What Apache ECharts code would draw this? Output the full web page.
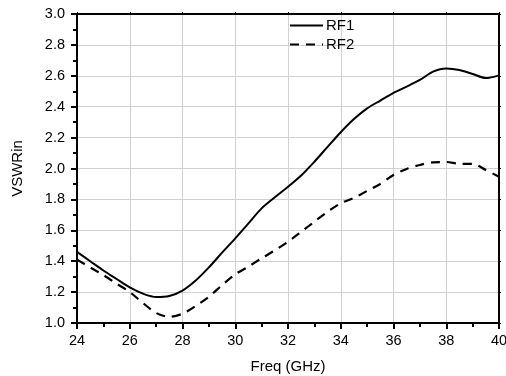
<!DOCTYPE html>
<html><head><meta charset="utf-8">
<script src="https://cdn.jsdelivr.net/npm/echarts@6/dist/echarts.min.js"></script>
<style>html,body{margin:0;padding:0;background:#fff}#c{width:506px;height:376px}</style>
</head><body><div id="c"></div>
<script>
var freq = [24,24.5,25,25.5,26,26.5,27,27.5,28,28.5,29,29.5,30,30.5,31,31.5,32,32.5,33,33.5,34,34.5,35,35.5,36,36.5,37,37.5,38,38.5,39,39.5,40];
var rf1 = [1.46,1.40,1.34,1.285,1.23,1.19,1.168,1.175,1.21,1.275,1.36,1.455,1.548,1.645,1.742,1.814,1.882,1.955,2.044,2.14,2.235,2.32,2.389,2.44,2.49,2.53,2.573,2.627,2.648,2.638,2.612,2.585,2.603];
var rf2 = [1.41,1.36,1.31,1.255,1.20,1.13,1.065,1.04,1.06,1.11,1.17,1.245,1.315,1.365,1.419,1.47,1.526,1.59,1.656,1.72,1.775,1.81,1.855,1.90,1.958,1.997,2.023,2.04,2.042,2.03,2.03,1.99,1.947];
var seriesNames = ['RF1','RF2'];
var xTitle = 'Freq (GHz)';
var yTitle = 'VSWRin';

function pairs(xs, ys){ return xs.map(function(x,i){return [x, ys[i]];}); }
var font = 'Arial, "Liberation Sans", sans-serif';
var chart = echarts.init(document.getElementById('c'), null, {renderer:'canvas'});
var axisLine = {show:true, onZero:false, lineStyle:{color:'#000', width:2}};
chart.setOption({
  animation:false,
  backgroundColor:'#fff',
  grid:{left:77, right:7, top:14, bottom:53, containLabel:false, outerBoundsMode:'none'},
  legend:{
    orient:'vertical', left:284, top:13, itemWidth:33, itemHeight:12, itemGap:4,
    itemStyle:{opacity:0},
    textStyle:{fontFamily:font, fontSize:15, color:'#000', padding:[0,0,0,-2]},
    data:seriesNames
  },
  xAxis:[{
    type:'value', min:24, max:40, interval:2, position:'bottom',
    name:xTitle, nameLocation:'middle', nameGap:36,
    nameTextStyle:{fontFamily:font, fontSize:15, color:'#000'},
    axisLine:axisLine,
    axisTick:{show:true, length:6, lineStyle:{color:'#000', width:2}},
    minorTick:{show:true, splitNumber:2, length:4, lineStyle:{color:'#000', width:2}},
    axisLabel:{fontFamily:font, fontSize:14.5, color:'#000', margin:10},
    splitLine:{show:true, lineStyle:{color:'#d0d0d0', width:1}}
  },{
    type:'value', min:24, max:40, interval:2, position:'top',
    axisLine:axisLine,
    axisTick:{show:true, length:2, lineStyle:{color:'#000', width:1}},
    axisLabel:{show:false}, splitLine:{show:false}
  }],
  yAxis:[{
    type:'value', min:1.0, max:3.0, interval:0.2, position:'left',
    name:yTitle, nameLocation:'middle', nameGap:52, nameRotate:90,
    nameTextStyle:{fontFamily:font, fontSize:15, color:'#000'},
    axisLine:axisLine,
    axisTick:{show:true, length:6, lineStyle:{color:'#000', width:2}},
    minorTick:{show:true, splitNumber:2, length:4, lineStyle:{color:'#000', width:2}},
    axisLabel:{fontFamily:font, fontSize:14.5, color:'#000', margin:12, formatter:function(v){return v.toFixed(1);}},
    splitLine:{show:true, lineStyle:{color:'#d0d0d0', width:1}}
  },{
    type:'value', min:1.0, max:3.0, interval:0.2, position:'right',
    axisLine:axisLine,
    axisTick:{show:true, length:2, lineStyle:{color:'#000', width:1}},
    axisLabel:{show:false}, splitLine:{show:false}
  }],
  series:[{
    name:seriesNames[0], type:'line', data:pairs(freq, rf1), smooth:0.3,
    showSymbol:false, symbol:'none', color:'#000',
    lineStyle:{color:'#000', width:2}
  },{
    name:seriesNames[1], type:'line', data:pairs(freq, rf2), smooth:0.3,
    showSymbol:false, symbol:'none', color:'#000',
    lineStyle:{color:'#000', width:2.2, type:[9,7]}
  }]
});
</script></body></html>
